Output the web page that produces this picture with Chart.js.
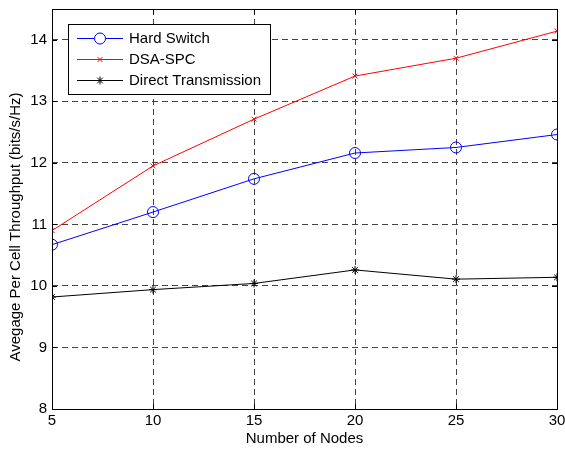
<!DOCTYPE html>
<html lang="en">
<head>
<meta charset="UTF-8">
<title>Avegage Per Cell Throughput</title>
<style>
    body { margin: 0; padding: 0; background: #fff; }
    #wrap { width: 565px; height: 452px; }
</style>
</head>
<body>
<div id="wrap"><canvas id="thrChart" width="565" height="452"></canvas></div>
<script src="https://cdn.jsdelivr.net/npm/chart.js"></script>
<script>
// values
const nodes = [5, 10, 15, 20, 25, 30];
const hardSwitch = [10.67, 11.20, 11.74, 12.16, 12.25, 12.46];
const dsaSpc = [10.90, 11.95, 12.71, 13.41, 13.70, 14.14];
const directTx = [9.82, 9.94, 10.04, 10.26, 10.11, 10.14];
const xTicks = [5, 10, 15, 20, 25, 30];
const yTicks = [8, 9, 10, 11, 12, 13, 14];
const yTitle = 'Avegage Per Cell Throughput (bits/s/Hz)';

const FONT = 'Arial, "Liberation Sans", sans-serif';

function toXY(xs, ys) {
    return xs.map((x, i) => ({ x: x, y: ys[i] }));
}

// MATLAB style frame, inward ticks, y title and legend box
const matlabFrame = {
    id: 'matlabFrame',
    afterDraw(chart) {
        const ctx = chart.ctx;
        const a = chart.chartArea;
        const xs = chart.scales.x, ys = chart.scales.y;
        ctx.save();
        ctx.strokeStyle = '#000';
        ctx.lineWidth = 1;
        ctx.setLineDash([]);
        ctx.beginPath();
        xTicks.forEach(v => {
            const px = Math.round(xs.getPixelForValue(v)) + 0.5;
            ctx.moveTo(px, a.bottom); ctx.lineTo(px, a.bottom - 5);
            ctx.moveTo(px, a.top); ctx.lineTo(px, a.top + 5);
        });
        yTicks.forEach(v => {
            const py = Math.round(ys.getPixelForValue(v)) + 0.5;
            ctx.moveTo(a.left, py); ctx.lineTo(a.left + 5, py);
            ctx.moveTo(a.right, py); ctx.lineTo(a.right - 5, py);
        });
        ctx.stroke();
        ctx.strokeRect(Math.round(a.left) + 0.5, Math.round(a.top) + 0.5,
            Math.round(a.right - a.left), Math.round(a.bottom - a.top));

        // y axis title
        ctx.save();
        ctx.translate(16, 227);
        ctx.rotate(-Math.PI / 2);
        ctx.fillStyle = '#000';
        ctx.font = '15px ' + FONT;
        ctx.textAlign = 'center';
        ctx.textBaseline = 'middle';
        ctx.fillText(yTitle, 0, 0);
        ctx.restore();

        // legend
        const bx = 68.5, by = 24.5, bw = 202, bh = 70;
        ctx.fillStyle = '#fff';
        ctx.fillRect(bx, by, bw, bh);
        ctx.strokeStyle = '#000';
        ctx.strokeRect(bx, by, bw, bh);
        ctx.font = '15px ' + FONT;
        ctx.textBaseline = 'middle';
        chart.data.datasets.forEach((ds, i) => {
            const ry = 38 + i * 21;
            ctx.strokeStyle = ds.borderColor;
            ctx.lineWidth = 1;
            ctx.beginPath();
            ctx.moveTo(77, ry + 0.5); ctx.lineTo(123, ry + 0.5);
            ctx.stroke();
            Chart.helpers.drawPoint(ctx, {
                pointStyle: ds.pointStyle,
                radius: ds.pointRadius,
                borderWidth: 1
            }, 100, ry + 0.5);
            ctx.fillStyle = '#000';
            ctx.fillText(ds.label, 129, ry + 1);
        });
        ctx.restore();
    }
};

new Chart(document.getElementById('thrChart'), {
    type: 'line',
    data: {
        datasets: [
            {
                label: 'Hard Switch',
                data: toXY(nodes, hardSwitch),
                borderColor: '#0000ff',
                backgroundColor: 'rgba(0,0,0,0)',
                pointStyle: 'circle',
                pointRadius: 5.5,
                borderWidth: 1
            },
            {
                label: 'DSA-SPC',
                data: toXY(nodes, dsaSpc),
                borderColor: '#ff0000',
                backgroundColor: 'rgba(0,0,0,0)',
                pointStyle: 'crossRot',
                pointRadius: 3.5,
                borderWidth: 1
            },
            {
                label: 'Direct Transmission',
                data: toXY(nodes, directTx),
                borderColor: '#000000',
                backgroundColor: 'rgba(0,0,0,0)',
                pointStyle: 'star',
                pointRadius: 4,
                borderWidth: 1
            }
        ]
    },
    options: {
        responsive: false,
        animation: false,
        layout: { padding: { top: 9, right: 8, left: 0, bottom: 0 } },
        plugins: { legend: { display: false }, tooltip: { enabled: false } },
        elements: { line: { tension: 0 } },
        scales: {
            x: {
                type: 'linear',
                min: 5, max: 30,
                afterBuildTicks: s => { s.ticks = xTicks.map(v => ({ value: v })); },
                afterFit: s => { s.height = 43; s.paddingLeft = 0; s.paddingRight = 0; },
                border: { display: false, dash: [6, 4] },
                grid: { color: '#444', lineWidth: 1, drawTicks: false },
                ticks: { color: '#000', font: { family: FONT, size: 15 }, padding: 3, maxRotation: 0 },
                title: { display: true, text: 'Number of Nodes', color: '#000', font: { family: FONT, size: 15 }, padding: { top: 1 } }
            },
            y: {
                min: 8, max: 14.5,
                afterBuildTicks: s => { s.ticks = yTicks.map(v => ({ value: v })); },
                afterFit: s => { s.width = 52; s.paddingTop = 0; s.paddingBottom = 0; },
                border: { display: false, dash: [6, 4] },
                grid: { color: '#444', lineWidth: 1, drawTicks: false },
                ticks: { color: '#000', font: { family: FONT, size: 15 }, padding: 5 }
            }
        }
    },
    plugins: [matlabFrame]
});
</script>
</body>
</html>
